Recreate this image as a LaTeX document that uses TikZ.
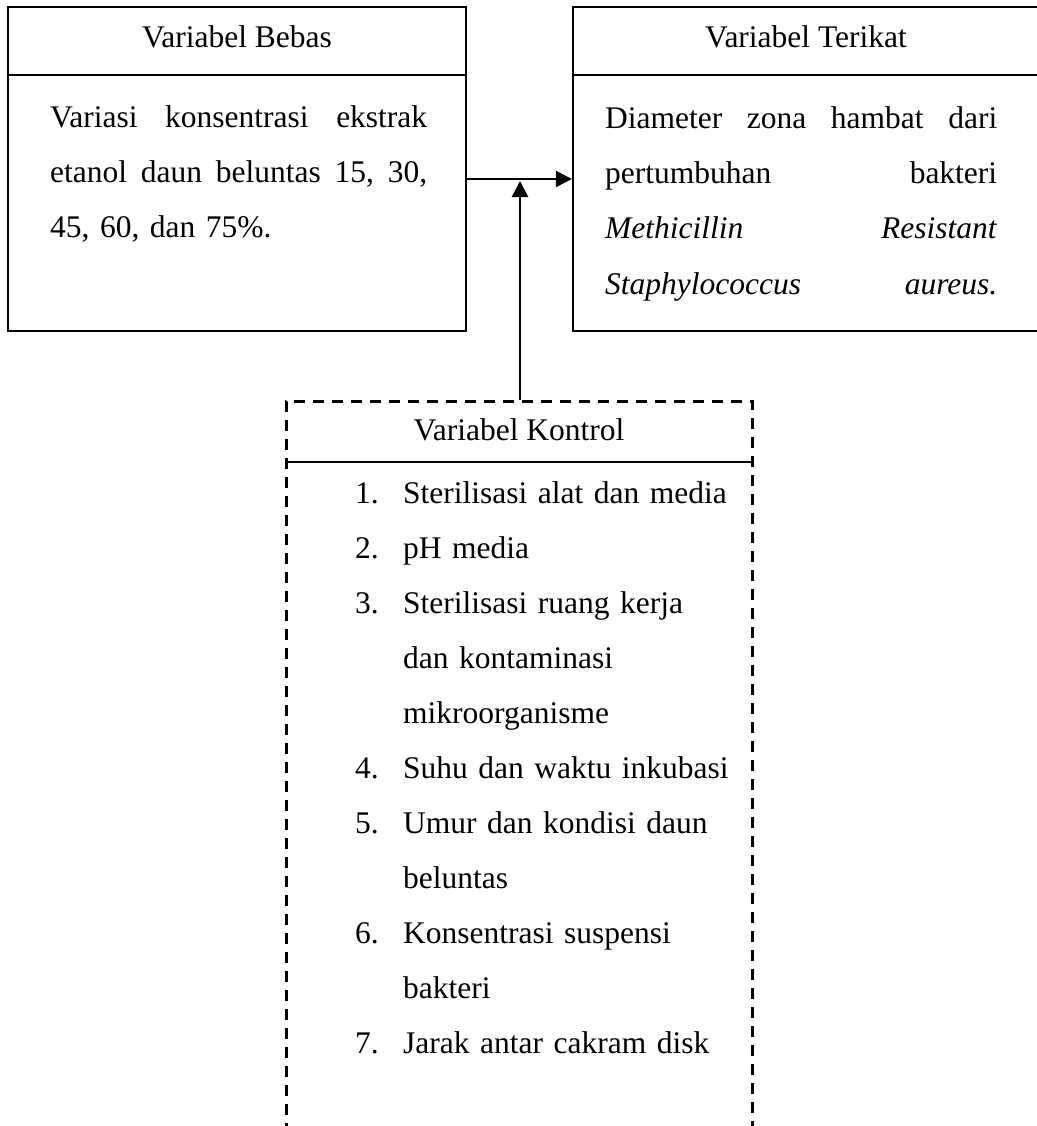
\documentclass[tikz,border=0pt]{standalone}
\usepackage{fontspec}
\setmainfont{Liberation Serif}
\usetikzlibrary{arrows.meta,positioning}

\newcommand{\butir}[1]{\makebox[48pt][l]{#1}}
\newcommand{\lanjut}{\hspace*{48pt}}

\tikzset{
  kotak/.style={draw, line width=2.3pt, rectangle, inner sep=0pt},
  kotakputus/.style={draw, line width=3pt, dash pattern=on 11pt off 8pt, rectangle, inner sep=0pt},
  teks/.style={inner sep=0pt, font=\fontsize{31.5pt}{55pt}\selectfont},
  panah/.style={-{Triangle[length=16pt,width=16pt]}, line width=2.3pt}
}

\begin{document}
\begin{tikzpicture}[x=1pt,y=-1pt]
    \fill[white] (0,0) rectangle (1036,1126);
    \useasboundingbox (0,0) rectangle (1036,1126);

    \node[kotak, minimum width=458pt, minimum height=324pt] (bebas) at (237,169) {};
    \node[kotak, minimum width=466pt, minimum height=324pt] (terikat) at (806,169) {};
    \node[kotakputus, minimum width=466pt, minimum height=740pt] (kontrol) at (519,771) {};

    \node[teks, anchor=base] (judulbebas) at (237,48) {Variabel Bebas};
    \node[teks, anchor=base] (judulterikat) at (806,48) {Variabel Terikat};
    \node[teks, anchor=base] (judulkontrol) at (519,440) {Variabel Kontrol};

    \draw[line width=2.3pt] (bebas.west |- 0,75) -- (bebas.east |- 0,75);
    \draw[line width=2.3pt] (terikat.west |- 0,75) -- (terikat.east |- 0,75);
    \draw[line width=2.3pt] (kontrol.west |- 0,462) -- (kontrol.east |- 0,462);

    \node[teks, anchor=base west, text width=377pt, align=left] (isibebas) at (50,128) {%
      \makebox[377pt][l]{Variasi\hfill konsentrasi\hfill ekstrak}\\
      \makebox[377pt][l]{etanol\hfill daun\hfill beluntas\hfill 15,\hfill 30,}\\
      45, 60, dan 75\%.};
    \node[teks, anchor=base west, text width=392pt, align=left] (isiterikat) at (605,129) {%
      \makebox[392pt][l]{Diameter\hfill zona\hfill hambat\hfill dari}\\
      \makebox[392pt][l]{pertumbuhan\hfill bakteri}\\
      \makebox[392pt][l]{\textit{Methicillin}\hfill\textit{Resistant}}\\
      \makebox[392pt][l]{\textit{Staphylococcus}\hfill\textit{aureus.}}};
    \node[teks, anchor=base west, text width=390pt, align=left] (isikontrol) at (355,503) {%
      \butir{1.}Sterilisasi alat dan media\\
      \butir{2.}pH media\\
      \butir{3.}Sterilisasi ruang kerja\\
      \lanjut dan kontaminasi\\
      \lanjut mikroorganisme\\
      \butir{4.}Suhu dan waktu inkubasi\\
      \butir{5.}Umur dan kondisi daun\\
      \lanjut beluntas\\
      \butir{6.}Konsentrasi suspensi\\
      \lanjut bakteri\\
      \butir{7.}Jarak antar cakram disk};

    \coordinate (temu) at (520,181);
    \draw[panah] ([yshift=-10pt]bebas.east) -- ([yshift=-10pt]terikat.west);
    \draw[panah] (kontrol.north -| temu) -- (temu);
\end{tikzpicture}
\end{document}
